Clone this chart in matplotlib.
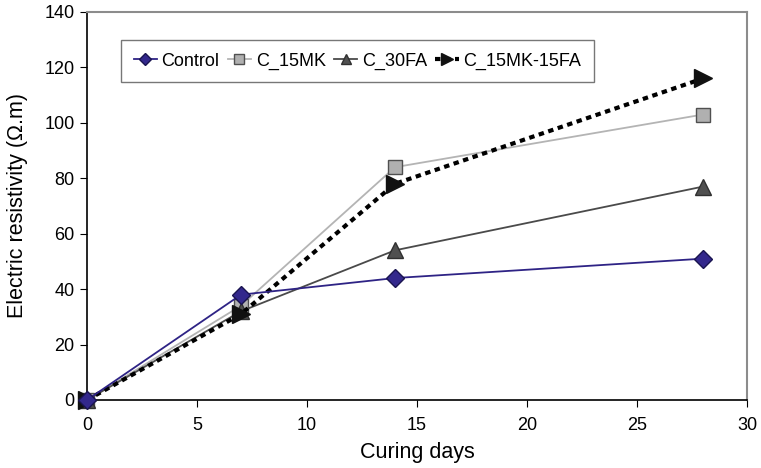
import matplotlib
matplotlib.use("Agg")
import matplotlib.pyplot as plt

plt.rcParams['font.family'] = ['Liberation Sans', 'DejaVu Sans']

days = [0, 7, 14, 28]
control = [0, 38, 44, 51]
c_15mk = [0, 34, 84, 103]
c_30fa = [0, 32, 54, 77]
c_15mk_15fa = [0, 31, 78, 116]

fig = plt.figure(figsize=(7.61, 4.68), dpi=100)
ax = fig.add_axes([0.1143, 0.1453, 0.8673, 0.8291])

ax.plot(days, c_15mk, marker='s', color='#b4b4b4', lw=1.3, ms=9.5,
        mfc='#b0b0b0', mec='#505050', label='C_15MK', zorder=3, clip_on=False)
ax.plot(days, c_30fa, marker='^', color='#4a4a4a', lw=1.3, ms=11,
        mfc='#505050', mec='#303030', label='C_30FA', zorder=3, clip_on=False)
ax.plot(days, c_15mk_15fa, marker='>', color='black', lw=3, ms=13,
        ls=(0, (1.3, 1.1)), mfc='#111111', mec='#111111',
        label='C_15MK-15FA', zorder=5, clip_on=False)
ax.plot(days, control, marker='D', color='#2e2385', lw=1.3, ms=9,
        mfc='#33288c', mec='#1a1450', label='Control', zorder=6, clip_on=False)

# legend order: Control first
handles, labels = ax.get_legend_handles_labels()
order = [3, 0, 1, 2]

ax.set_xlim(0, 30)
ax.set_ylim(0, 140)
ax.set_xticks(range(0, 31, 5))
ax.set_yticks(range(0, 141, 20))
ax.tick_params(direction='out', length=5, labelsize=13, colors='black')
ax.tick_params(axis='x', pad=7)
ax.tick_params(axis='y', pad=4)
for side in ('top', 'right'):
    ax.spines[side].set_color('#8c8c8c')
    ax.spines[side].set_linewidth(1.5)
for side in ('left', 'bottom'):
    ax.spines[side].set_linewidth(1.2)

ax.set_xlabel('Curing days', fontsize=15.5, labelpad=6)
ax.set_ylabel('Electric resistivity (Ω.m)', fontsize=15.5, labelpad=12)

leg = ax.legend([handles[i] for i in order], [labels[i] for i in order],
                loc='upper left', bbox_to_anchor=(0.0515, 0.928), ncol=4,
                fontsize=13, frameon=True, fancybox=False, handlelength=1.3,
                handletextpad=0.25, columnspacing=0.45, borderpad=0.7,
                borderaxespad=0, markerscale=0.7)
leg.get_frame().set_edgecolor('#555555')
leg.get_frame().set_linewidth(1.0)

fig.savefig('out.png', dpi=100)
